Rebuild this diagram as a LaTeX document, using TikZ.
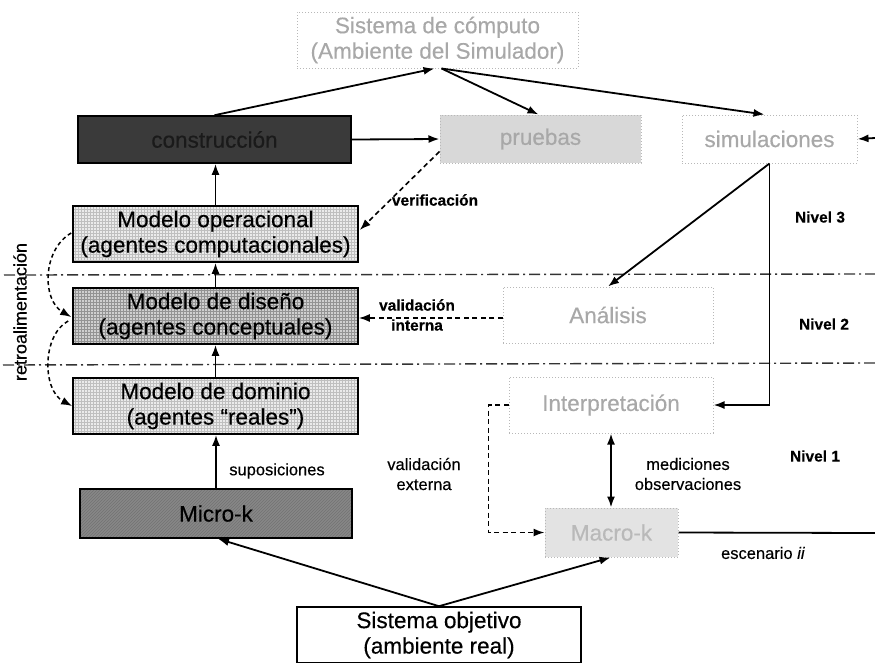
\documentclass[tikz,border=0pt]{standalone}
\usepackage{fontspec}
\setmainfont{Liberation Sans}[FakeBold=0.35]
\usetikzlibrary{arrows.meta,patterns,calc}

\definecolor{ghosttext}{HTML}{A8A8A8}
\definecolor{ghostline}{HTML}{B8B8B8}
\definecolor{darkfill}{HTML}{3A3A3A}
\definecolor{darktext}{HTML}{1A1A1A}
\definecolor{lightfill}{HTML}{D8D8D8}
\definecolor{macrofill}{HTML}{E3E3E3}
\definecolor{microfill}{HTML}{878787}

\begin{document}
\begin{tikzpicture}[x=1pt,y=-1pt,
  box/.style={draw=black, line width=1.6pt, inner sep=0pt, align=center,
    font=\fontsize{22.5}{25.5}\selectfont},
  ghostbox/.style={draw=ghostline, dotted, line width=1pt, inner sep=0pt,
    align=center, text=ghosttext, font=\fontsize{22.5}{25.5}\selectfont},
  gridbox/.style={box, preaction={fill=gray!16}, pattern=grid, pattern color=gray!50},
  densebox/.style={box, preaction={fill=gray!38}, pattern=grid, pattern color=gray!85},
  lbl/.style={align=center, font=\fontsize{16.5}{20}\selectfont},
  lblb/.style={align=center, font=\fontsize{15.5}{20}\selectfont\bfseries},
  tip/.tip={Latex[length=11pt,width=8pt]},
  arr/.style={-tip, line width=1.8pt},
  darr/.style={-tip, line width=1.6pt, dash pattern=on 5pt off 3.5pt},
  curvarr/.style={-tip, line width=1.5pt, dash pattern=on 4pt off 3pt},
  levelline/.style={draw=black!80, line width=1.4pt,
    dash pattern=on 11pt off 4pt on 2pt off 4pt},
]
\useasboundingbox (0,0) rectangle (875,662);

% ---- boxes ----
\node[ghostbox, minimum width=281pt, minimum height=56pt] (comp) at (437.5,40)
  {Sistema de cómputo\\(Ambiente del Simulador)};
\node[box, fill=darkfill, text=darktext, minimum width=273pt, minimum height=47pt]
  (constr) at (214.5,139.5) {construcción};
\node[ghostbox, fill=lightfill, minimum width=201pt, minimum height=48pt]
  (pruebas) at (540.5,139) {pruebas};
\node[ghostbox, minimum width=175pt, minimum height=48pt]
  (simul) at (769.5,139) {simulaciones};

\node[gridbox, minimum width=285pt, minimum height=56pt] (oper) at (215.5,234)
  {Modelo operacional\\(agentes computacionales)};
\node[densebox, minimum width=285pt, minimum height=56pt] (diseno) at (215.5,316)
  {Modelo de diseño\\(agentes conceptuales)};
\node[gridbox, minimum width=285pt, minimum height=56pt] (dominio) at (215.5,406)
  {Modelo de dominio\\(agentes “reales”)};
\node[box, preaction={fill=microfill}, pattern=north east lines, pattern color=black!55,
  minimum width=272pt, minimum height=49pt] (microk) at (216,513.5) {Micro-k};

\node[ghostbox, minimum width=210pt, minimum height=56pt] (analisis) at (608,315)
  {Análisis};
\node[ghostbox, minimum width=204pt, minimum height=56pt] (interp) at (611,405)
  {Interpretación};
\node[ghostbox, fill=macrofill, text=ghosttext!80, minimum width=133pt, minimum height=49pt]
  (macrok) at (611.5,532.5) {Macro-k};

\node[box, fill=white, minimum width=284pt, minimum height=56pt] (objetivo) at (439,635)
  {Sistema objetivo\\(ambiente real)};

% ---- level separators ----
\coordinate (l3a) at (4,275);   \coordinate (l3b) at (875,274);
\coordinate (l2a) at (3,365);   \coordinate (l2b) at (875,363);
\draw[levelline] (l3a) -- (l3b);
\draw[levelline] (l2a) -- (l2b);

% ---- connectors ----
\draw[arr] (constr.north) -- ($(comp.south)+(-3,0)$);
\draw[arr] ($(comp.south)+(4,0)$) -- ($(pruebas.north)+(-2,0)$);
\draw[arr] ($(comp.south)+(4,0)$) -- ($(simul.north)+(-5,0)$);
\draw[arr] (constr.east) -- (pruebas.west);
\coordinate (rin) at (875,138);
\draw[arr] (rin) -- (simul.east);

\draw[arr] (oper.north) -- (oper.north |- constr.south);
\draw[darr] ($(pruebas.south west)+(0,-12)$) -- ($(oper.east)+(1,-4)$);
\draw[arr] (diseno.north) -- (oper.south);
\draw[arr] (dominio.north) -- (diseno.south);
\draw[arr] (microk.north) -- (microk.north |- dominio.south);
\draw[darr] ($(analisis.west)+(0,3)$) -- ($(diseno.east)+(0,2)$);

\draw[arr] (simul.south) -- (analisis.north);
\draw[arr] (simul.south) -- (simul.south |- interp.east) -- (interp.east);
\draw[{tip}-{tip}, line width=1.8pt] (interp.south) -- (interp.south |- macrok.north);
\draw[darr] (interp.west) -- ++(-20,0) |- (macrok.west);
\coordinate (rout) at (875,533);
\draw[line width=1.8pt] (macrok.east) -- (rout);

\draw[arr] (objetivo.north) -- ($(microk.south)+(2,0)$);
\draw[arr] (objetivo.north) -- ($(macrok.south)+(-1,0)$);

% feedback loops on the left
\draw[curvarr] ($(oper.west)+(-1,-1)$) .. controls (42,250) and (42,300) .. ($(diseno.west)+(-1,1)$);
\draw[curvarr] ($(diseno.west)+(-4,5)$) .. controls (42,335) and (42,390) .. (dominio.west);

% ---- labels ----
\node[lblb] (verif) at (435,200) {verificación};
\node[lblb] (valint) at (417,315) {validación\\interna};
\node[lbl] (supos) at (277,471) {suposiciones};
\node[lbl] (valext) at (424,474) {validación\\externa};
\node[lbl] (medic) at (688,474) {mediciones\\observaciones};
\node[lbl] (escen) at (763,553) {escenario \textit{ii}};
\node[lblb] (niv3) at (820,217) {Nivel 3};
\node[lblb] (niv2) at (824,324) {Nivel 2};
\node[lblb] (niv1) at (815,456) {Nivel 1};
\node[rotate=90, font=\fontsize{18}{20}\selectfont] (retro) at (20,312) {retroalimentación};
\end{tikzpicture}
\end{document}
